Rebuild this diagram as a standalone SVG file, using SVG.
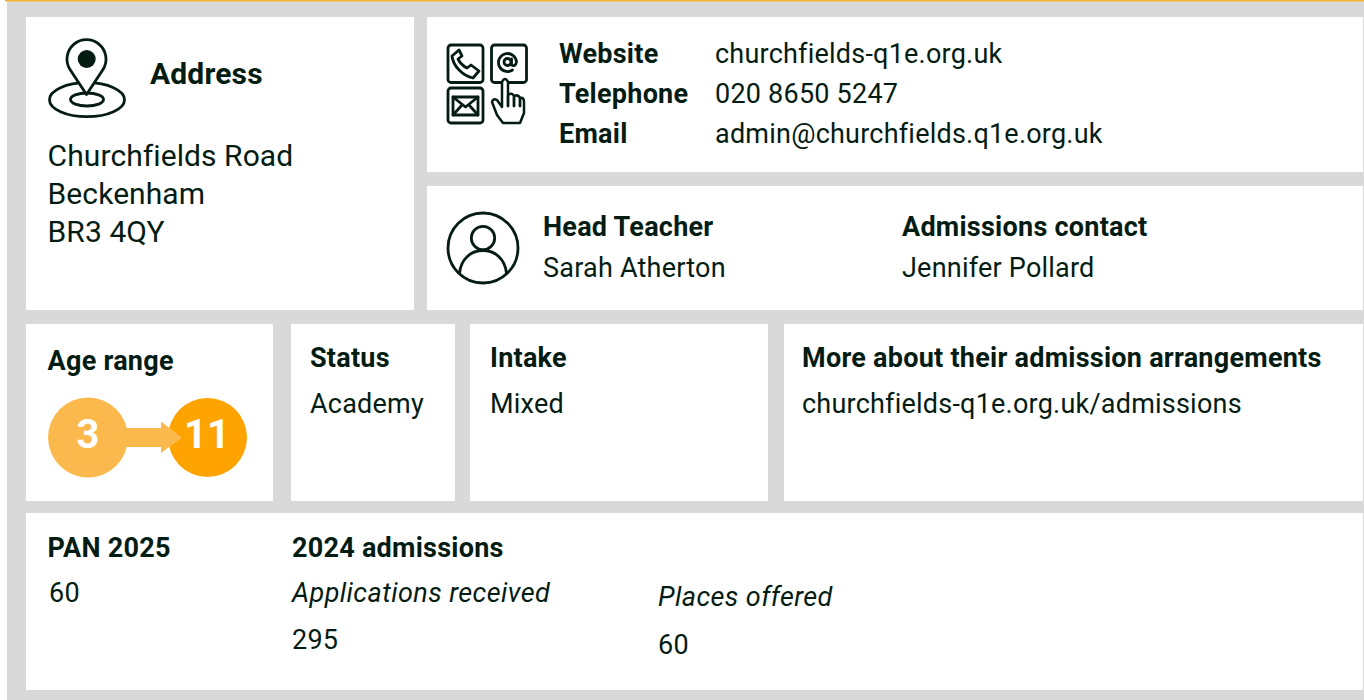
<svg xmlns="http://www.w3.org/2000/svg" width="1364" height="700" viewBox="0 0 1364 700">
<style>
text{font-family:Roboto,"Liberation Sans",sans-serif;fill:#051c12}
.b{font-weight:700;font-size:27px;letter-spacing:.25px}
.r{font-size:27px;letter-spacing:.22px}
.a{font-size:30px;letter-spacing:.08px}
.i{font-style:italic;font-size:27px;letter-spacing:.42px}
.w{fill:#fff}
.s{fill:none;stroke:#051c12;stroke-width:2.800;stroke-linejoin:round;stroke-linecap:round}
.n{fill:#fff;font-weight:700;font-size:40px;text-anchor:middle}
</style>
<rect width="1364" height="700" fill="#fff"/>
<rect x="7" y="1" width="1357" height="699" fill="#d9d9d9"/>
<rect x="5" y="0" width="1359" height="1.500" fill="#f9b233"/>
<g id="address">
<rect class="w" x="26" y="17" width="388" height="293"/>
<ellipse class="s" cx="87" cy="99.700" rx="37.500" ry="17"/>
<ellipse class="s" cx="87" cy="99.500" rx="16.500" ry="6.500"/>
<path d="M86.500 94.500 L70 69.500 A19.500 19.500 0 1 1 103 69.500 Z" fill="#fff" stroke="#051c12" stroke-width="2.800" stroke-linejoin="round"/>
<circle cx="86.700" cy="59" r="9" fill="#051c12"/>
<text x="150" y="84" style="font-weight:700;font-size:30px;letter-spacing:.15px">Address</text>
<text class="a" x="47.600" y="166">Churchfields Road</text>
<text class="a" x="47.600" y="204">Beckenham</text>
<text class="a" x="47.600" y="242">BR3 4QY</text>
</g>
<g id="contact">
<rect class="w" x="427" y="17" width="936" height="155"/>
<rect class="s" x="448" y="45" width="35" height="37.500" rx="3"/>
<rect class="s" x="491.500" y="45" width="35" height="37.500" rx="3"/>
<rect class="s" x="448" y="88" width="35" height="35" rx="3"/>
<path class="s" d="M459 50 L452 56 C453 66 463 76 473 78 L479 71 L471 65 L467 68 C463 66 460 63 458 59 L462 56 Z"/>
<rect class="s" x="453" y="97" width="25" height="18"/>
<path class="s" d="M453 97 L465.500 107 L478 97 M453 115 L462 105 M478 115 L469 105"/>
<circle class="s" cx="507.500" cy="62" r="3.500"/>
<path class="s" d="M511.500 59 V65 Q515.500 67 516.500 62 A9 9 0 1 0 512.500 70"/>
<path d="M497 115 L492 102 Q493 98 497 100 L502 107 V82 Q505 76 508 82 V95 Q512 92 514 96 Q518 94 520 98 Q524 97 524 102 V113 L520 123 H503 Z" fill="#fff" stroke="#051c12" stroke-width="2.500" stroke-linejoin="round"/>
<path class="s" d="M508 96 V106 M514 97 V106 M520 99 V106" stroke-width="2"/>
<text class="b" x="559" y="62.600">Website</text>
<text class="b" x="559" y="102.600">Telephone</text>
<text class="b" x="559" y="142.600">Email</text>
<text class="r" x="715" y="62.600">churchfields-q1e.org.uk</text>
<text class="r" x="715" y="102.600">020 8650 5247</text>
<text class="r" x="715" y="142.600">admin@churchfields.q1e.org.uk</text>
</g>
<g id="people">
<rect class="w" x="427" y="186" width="936" height="124"/>
<circle class="s" cx="483" cy="248" r="35"/>
<circle class="s" cx="483" cy="238" r="11.700"/>
<path class="s" d="M459.500 273 C461 259 471 250.500 483 250.500 C495 250.500 505 259 506.500 273"/>
<text class="b" x="543" y="235.600">Head Teacher</text>
<text class="r" x="543" y="276.600">Sarah Atherton</text>
<text class="b" x="902" y="235.600">Admissions contact</text>
<text class="r" x="902" y="276.600">Jennifer Pollard</text>
</g>
<g id="age-range">
<rect class="w" x="26" y="324" width="247" height="177"/>
<text class="b" x="47.600" y="369.600">Age range</text>
<circle cx="88" cy="437.500" r="40" fill="#fbb94d"/>
<circle cx="207.500" cy="437.500" r="39.500" fill="#ffa300"/>
<path d="M126 428 H161 V421.500 L182 437.500 L161 453 V447 H126 Z" fill="#fbb94d"/>
<text class="n" x="88" y="448">3</text>
<text class="n" x="207" y="448">11</text>
</g>
<g id="status">
<rect class="w" x="291" y="324" width="164" height="177"/>
<text class="b" x="310" y="366.600">Status</text>
<text class="r" x="310" y="412.600">Academy</text>
</g>
<g id="intake">
<rect class="w" x="470" y="324" width="298" height="177"/>
<text class="b" x="490" y="366.600">Intake</text>
<text class="r" x="490" y="412.600">Mixed</text>
</g>
<g id="more">
<rect class="w" x="784" y="324" width="579" height="177"/>
<text class="b" x="802" y="366.600">More about their admission arrangements</text>
<text class="r" x="802" y="412.600">churchfields-q1e.org.uk/admissions</text>
</g>
<g id="pan">
<rect class="w" x="26" y="513" width="1337" height="177"/>
<text class="b" x="47.600" y="556.600">PAN 2025</text>
<text class="r" x="49" y="601.600">60</text>
<text class="b" x="292" y="556.600">2024 admissions</text>
<text class="i" x="292" y="601.600">Applications received</text>
<text class="r" x="292" y="648.600">295</text>
<text class="i" x="658" y="605.600">Places offered</text>
<text class="r" x="658" y="653.600">60</text>
</g>
</svg>
